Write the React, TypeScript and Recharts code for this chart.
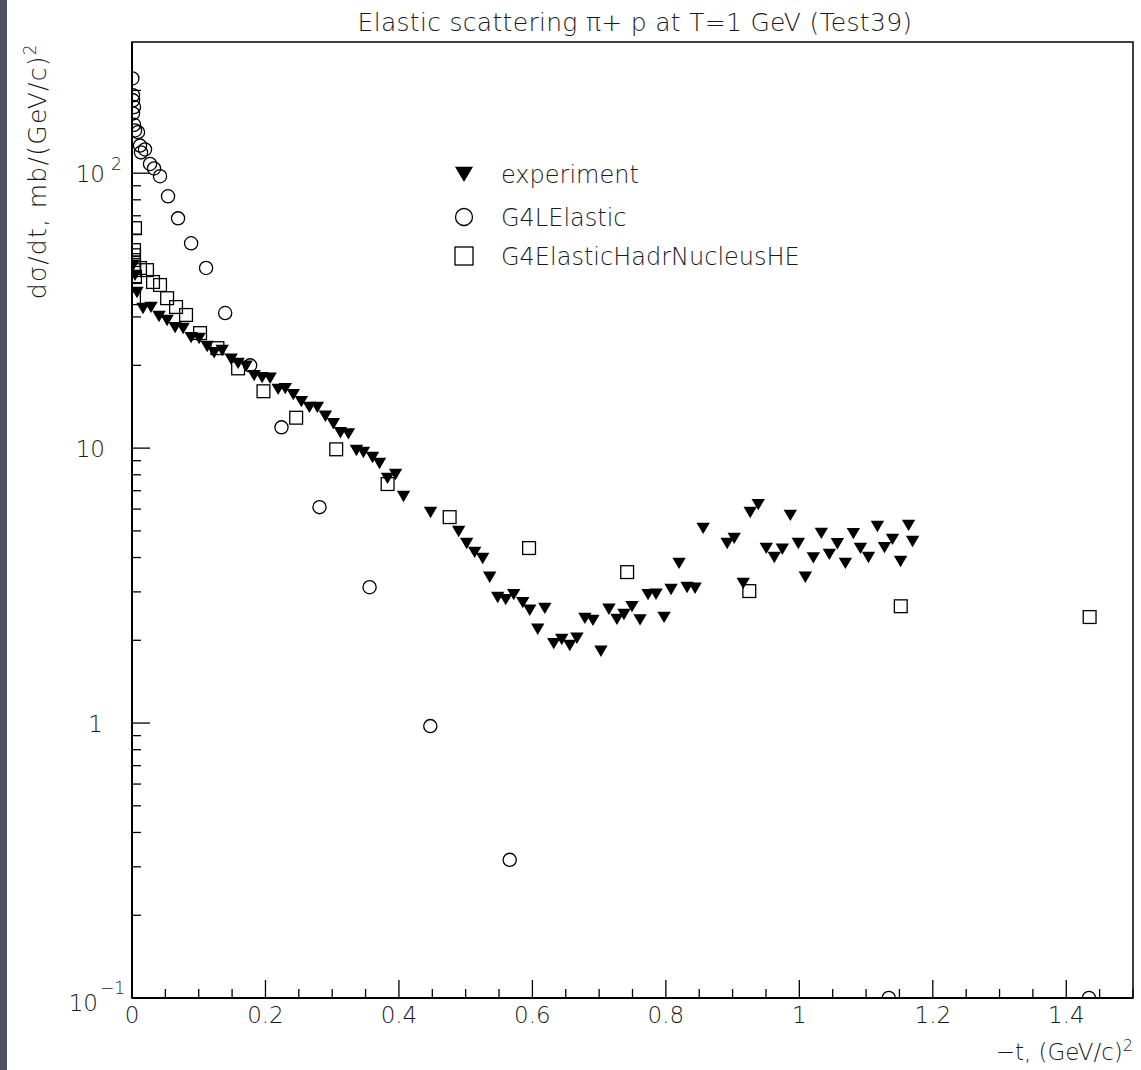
import React from "react";
import {
  ScatterChart,
  Scatter,
  XAxis,
  YAxis,
  ReferenceArea,
  Legend,
  Customized,
} from "recharts";

const FONT = "'DejaVu Sans', 'Liberation Sans', sans-serif";
const INK = "#1a1a1a";

// experiment (filled triangles)
const experimentT = [
  0.0015, 0.0045, 0.0075, 0.0165, 0.0285, 0.0405, 0.0526, 0.0646, 0.0766, 0.0886,
  0.1006, 0.1126, 0.1231, 0.1351, 0.1486, 0.159, 0.171, 0.183, 0.195, 0.207,
  0.219, 0.2297, 0.2417, 0.2538, 0.2658, 0.2778, 0.2898, 0.3018, 0.3123, 0.3243,
  0.3363, 0.3468, 0.3604, 0.3709, 0.3829, 0.3949, 0.4069, 0.4474, 0.4895, 0.5015,
  0.5135, 0.5255, 0.536, 0.548, 0.56, 0.572, 0.5856, 0.596, 0.608, 0.6186,
  0.632, 0.644, 0.656, 0.6667, 0.6787, 0.6907, 0.7027, 0.7147, 0.7267, 0.7372,
  0.7492, 0.7613, 0.7733, 0.7853, 0.7973, 0.8078, 0.8198, 0.8318, 0.8438, 0.8559,
  0.8919, 0.9024, 0.9159, 0.9264, 0.9384, 0.9505, 0.9625, 0.9745, 0.9865, 0.9985,
  1.009, 1.021, 1.033, 1.045, 1.057, 1.069, 1.081, 1.0916, 1.1036, 1.117,
  1.1276, 1.1396, 1.1517, 1.1637, 1.1697,
];
const experimentXs = [
  46.3, 42.6, 36.9, 32.3, 32.6, 30.2, 29.2, 27.5, 27.3, 25.3,
  25.1, 23.5, 22.3, 22.7, 21.1, 20.4, 19.9, 18.4, 18.1, 18.0,
  16.4, 16.5, 15.7, 14.8, 14.1, 14.1, 13.1, 12.3, 11.4, 11.3,
  9.83, 9.67, 9.27, 8.82, 7.78, 8.04, 6.69, 5.85, 4.99, 4.51,
  4.19, 3.98, 3.4, 2.87, 2.82, 2.94, 2.75, 2.58, 2.2, 2.62,
  1.95, 2.02, 1.92, 2.04, 2.41, 2.37, 1.83, 2.6, 2.39, 2.49,
  2.66, 2.38, 2.94, 2.95, 2.43, 3.07, 3.82, 3.12, 3.1, 5.12,
  4.51, 4.71, 3.23, 5.85, 6.25, 4.33, 4.01, 4.3, 5.71, 4.51,
  3.4, 4.0, 4.91, 4.12, 4.5, 3.82, 4.9, 4.33, 4.01, 5.2,
  4.36, 4.67, 3.88, 5.25, 4.59,
];

// G4LElastic (open circles)
const lElasticT = [
  0.0005, 0.0015, 0.0015, 0.003, 0.0015, 0.003, 0.0045, 0.009, 0.012, 0.0195,
  0.0135, 0.027, 0.033, 0.042, 0.054, 0.069, 0.0886, 0.111, 0.1396, 0.177,
  0.224, 0.281, 0.356, 0.447, 0.566, 1.134, 1.434,
];
const lElasticXs = [
  221, 192, 184, 174, 165, 150, 143, 141, 126, 122,
  119, 108, 104, 97.5, 82.4, 68.5, 55.6, 45.2, 31.0, 20.0,
  11.9, 6.1, 3.12, 0.975, 0.318, 0.1, 0.1,
];

// G4ElasticHadrNucleusHE (open squares)
const hadrNucleusT = [
  0.0045, 0.003, 0.003, 0.003, 0.003, 0.003, 0.0045, 0.003, 0.012, 0.0225,
  0.0315, 0.042, 0.0526, 0.066, 0.081, 0.102, 0.128, 0.159, 0.197, 0.246,
  0.306, 0.383, 0.476, 0.595, 0.742, 0.925, 1.152, 1.435,
];
const hadrNucleusXs = [
  63.1, 52.5, 50.3, 48.3, 46.3, 44.4, 41.9, 35.1, 45.2, 44.4,
  40.2, 39.2, 35.1, 32.6, 30.5, 26.2, 23.1, 19.5, 16.1, 12.9,
  9.9, 7.4, 5.61, 4.33, 3.54, 3.02, 2.66, 2.43,
];

const xMajorTicks = [0, 0.2, 0.4, 0.6, 0.8, 1, 1.2, 1.4];
const xMajorLabels = ["0", "0.2", "0.4", "0.6", "0.8", "1", "1.2", "1.4"];
const xMinorTicks = [
  0.05, 0.1, 0.15, 0.25, 0.3, 0.35, 0.45, 0.5, 0.55, 0.65, 0.7, 0.75,
  0.85, 0.9, 0.95, 1.05, 1.1, 1.15, 1.25, 1.3, 1.35, 1.45, 1.5,
];
const yDecadeTicks = [0.1, 1, 10, 100];
const yMinorTicks = [
  0.2, 0.3, 0.4, 0.5, 0.6, 0.7, 0.8, 0.9,
  2, 3, 4, 5, 6, 7, 8, 9,
  20, 30, 40, 50, 60, 70, 80, 90,
  200,
];

const toPoints = (t: number[], v: number[]) => t.map((x, i) => ({ x, y: v[i] }));
const experiment = toPoints(experimentT, experimentXs);
const lElastic = toPoints(lElasticT, lElasticXs);
const hadrNucleus = toPoints(hadrNucleusT, hadrNucleusXs);

const near = (a: number, b: number) => Math.abs(a - b) < 1e-6;

function TriangleDown({ cx, cy, s = 6.7 }: any) {
  return (
    <path
      d={`M${cx - s},${cy - s * 0.8}L${cx + s},${cy - s * 0.8}L${cx},${cy + s * 0.9}Z`}
      fill="#000"
    />
  );
}
function OpenCircle({ cx, cy, r = 6.6 }: any) {
  return <circle cx={cx} cy={cy} r={r} fill="none" stroke="#000" strokeWidth={1.3} />;
}
function OpenSquare({ cx, cy, s = 6.4 }: any) {
  return (
    <rect x={cx - s} y={cy - s} width={2 * s} height={2 * s} fill="none" stroke="#000" strokeWidth={1.3} />
  );
}

function XTick({ x, y, payload }: any) {
  const v = payload.value;
  const idx = xMajorTicks.findIndex((m) => near(m, v));
  const major = idx >= 0;
  return (
    <g>
      <line x1={x} y1={y} x2={x} y2={y - (major ? 18 : 9)} stroke="#000" strokeWidth={1.3} />
      {major && (
        <text x={x} y={y + 25} textAnchor="middle" fontFamily={FONT} fontWeight={200} fontSize={23} fill={INK}>
          {xMajorLabels[idx]}
        </text>
      )}
    </g>
  );
}

function YTick({ x, y, payload }: any) {
  const v = payload.value;
  const major = yDecadeTicks.some((d) => near(d, v));
  const txt = { fontFamily: FONT, fontWeight: 200, fill: INK } as const;
  let label = null;
  if (near(v, 100)) {
    label = (
      <g>
        <text x={105} y={y + 9} textAnchor="end" fontSize={23} {...txt}>10</text>
        <text x={111} y={y - 3} fontSize={17} {...txt}>2</text>
      </g>
    );
  } else if (near(v, 10)) {
    label = <text x={105} y={y + 9} textAnchor="end" fontSize={23} {...txt}>10</text>;
  } else if (near(v, 1)) {
    label = <text x={103} y={y + 9} textAnchor="end" fontSize={23} {...txt}>1</text>;
  } else if (near(v, 0.1)) {
    label = (
      <g>
        <text x={98} y={y + 13} textAnchor="end" fontSize={23} {...txt}>10</text>
        <text x={100} y={y - 4} fontSize={17} {...txt}>−1</text>
      </g>
    );
  }
  return (
    <g>
      <line x1={x} y1={y} x2={x + (major ? 18 : 9)} y2={y} stroke="#000" strokeWidth={1.3} />
      {label}
    </g>
  );
}

function Titles() {
  const txt = { fontFamily: FONT, fontWeight: 200, fill: INK } as const;
  return (
    <g>
      <text x={635} y={31} textAnchor="middle" fontSize={25} letterSpacing={0.3} {...txt}>
        Elastic scattering π+ p at T=1 GeV (Test39)
      </text>
      <text
        x={46}
        y={43}
        transform="rotate(-90 46 43)"
        textAnchor="end"
        fontSize={25}
        letterSpacing={1.3}
        {...txt}
      >
        dσ/dt, mb/(GeV/c)
        <tspan fontSize={17} dy={-10}>2</tspan>
      </text>
      <text x={1133} y={1060} textAnchor="end" fontSize={23} {...txt}>
        −t, (GeV/c)
        <tspan fontSize={16} dy={-9}>2</tspan>
      </text>
    </g>
  );
}

const legendRows = [
  { name: "experiment", Marker: TriangleDown, size: 9 },
  { name: "G4LElastic", Marker: OpenCircle, size: 9 },
  { name: "G4ElasticHadrNucleusHE", Marker: OpenSquare, size: 9 },
];
const legendRowY = [24, 67, 106];

function LegendBox() {
  return (
    <svg width={420} height={130} style={{ display: "block" }}>
      {legendRows.map((row, i) => {
        const cy = legendRowY[i];
        const M = row.Marker;
        return (
          <g key={row.name}>
            {M === OpenCircle ? <M cx={24} cy={cy} r={8.5} /> : <M cx={24} cy={cy} s={row.size} />}
            <text x={61} y={cy + 9} fontFamily={FONT} fontWeight={200} fontSize={24} fill={INK}>
              {row.name}
            </text>
          </g>
        );
      })}
    </svg>
  );
}

export default function App() {
  return (
    <div style={{ position: "absolute", left: 0, top: 0, width: 1141, height: 1070, background: "#fff" }}>
      <div style={{ position: "absolute", left: 0, top: 0, width: 7, height: 1070, background: "#4d5160" }} />
      <ScatterChart width={1141} height={1070} margin={{ top: 42, right: 8, bottom: 0, left: 0 }}>
        <XAxis
          type="number"
          dataKey="x"
          domain={[0, 1.5]}
          allowDataOverflow
          ticks={[...xMajorTicks, ...xMinorTicks]}
          interval={0}
          tick={<XTick />}
          tickLine={false}
          tickSize={0}
          tickMargin={0}
          height={72}
          axisLine={{ stroke: "#000", strokeWidth: 2 }}
        />
        <YAxis
          type="number"
          dataKey="y"
          scale="log"
          domain={[0.1, 300]}
          allowDataOverflow
          ticks={[...yDecadeTicks, ...yMinorTicks]}
          interval={0}
          tick={<YTick />}
          tickLine={false}
          tickSize={0}
          tickMargin={0}
          width={132}
          axisLine={{ stroke: "#000", strokeWidth: 2 }}
        />
        <ReferenceArea x1={0} x2={1.5} y1={0.1} y2={300} fill="none" stroke="#000" strokeWidth={1.5} />
        <Scatter name="experiment" data={experiment} shape={<TriangleDown />} isAnimationActive={false} />
        <Scatter name="G4LElastic" data={lElastic} shape={<OpenCircle />} isAnimationActive={false} />
        <Scatter name="G4ElasticHadrNucleusHE" data={hadrNucleus} shape={<OpenSquare />} isAnimationActive={false} />
        <Legend
          content={<LegendBox />}
          layout="vertical"
          verticalAlign="middle"
          align="center"
          wrapperStyle={{ left: 440, top: 150, width: 420 }}
        />
        <Customized component={<Titles />} />
      </ScatterChart>
    </div>
  );
}
